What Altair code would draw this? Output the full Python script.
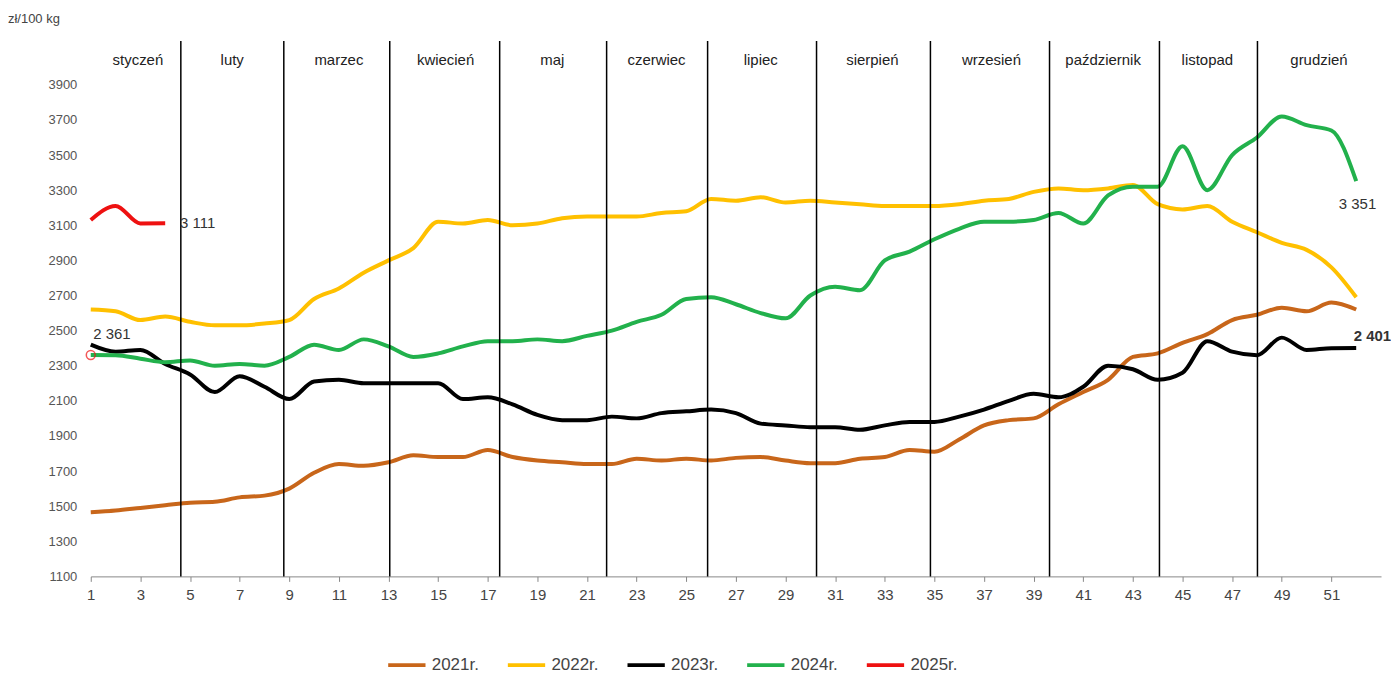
import pandas as pd
import altair as alt

weeks = list(range(1, 53))
y2021 = [1465, 1475, 1490, 1505, 1520, 1525, 1550, 1560, 1600, 1690, 1740, 1730, 1750, 1790, 1780, 1780,
         1820, 1780, 1760, 1750, 1740, 1740, 1770, 1760, 1770, 1760, 1775, 1780, 1760, 1745, 1745, 1770,
         1780, 1820, 1810, 1880, 1960, 1990, 2000, 2080, 2150, 2220, 2350, 2370, 2430, 2480, 2560, 2590,
         2630, 2610, 2660, 2620]
y2022 = [2620, 2610, 2560, 2580, 2550, 2530, 2530, 2540, 2560, 2680, 2740, 2830, 2900, 2970, 3120, 3110,
         3130, 3100, 3110, 3140, 3150, 3150, 3150, 3170, 3180, 3250, 3240, 3260, 3230, 3240, 3230, 3220,
         3210, 3210, 3210, 3220, 3240, 3250, 3290, 3310, 3300, 3310, 3330, 3220, 3190, 3210, 3120, 3060,
         3000, 2960, 2860, 2690]
y2023 = [2420, 2380, 2390, 2310, 2250, 2150, 2240, 2180, 2110, 2210, 2220, 2200, 2200, 2200, 2200, 2110,
         2120, 2080, 2020, 1990, 1990, 2010, 2000, 2030, 2040, 2050, 2030, 1970, 1960, 1950, 1950, 1935,
         1960, 1980, 1980, 2010, 2050, 2100, 2140, 2120, 2180, 2300, 2280, 2220, 2260, 2440, 2380, 2360,
         2460, 2390, 2400, 2401]
y2024 = [2361, 2360, 2340, 2320, 2330, 2300, 2310, 2300, 2350, 2420, 2390, 2450, 2410, 2350, 2370, 2410,
         2440, 2440, 2450, 2440, 2470, 2500, 2550, 2590, 2680, 2690, 2650, 2600, 2570, 2700, 2750, 2730,
         2900, 2950, 3020, 3080, 3120, 3120, 3130, 3170, 3110, 3270, 3320, 3320, 3550, 3300, 3500, 3600,
         3720, 3670, 3640, 3351]
y2025 = [3130, 3210, 3110, 3111]

years = ["2021r.", "2022r.", "2023r.", "2024r.", "2025r."]
colors = ["#c8661a", "#ffc000", "#000000", "#22b14c", "#ee1111"]

months = ["styczeń", "luty", "marzec", "kwiecień", "maj", "czerwiec", "lipiec", "sierpień",
          "wrzesień", "październik", "listopad", "grudzień"]
month_pos = [2.9, 6.7, 11.0, 15.3, 19.6, 23.8, 28.0, 32.5, 37.3, 41.8, 46.0, 50.5]
separators = [4.63, 8.78, 13.05, 17.48, 21.79, 25.86, 30.25, 34.84, 39.64, 44.07, 48.02]

rows = []
for yr, vals in zip(years, [y2021, y2022, y2023, y2024, y2025]):
    for w, v in zip(weeks, vals):
        rows.append({"week": w, "value": v, "year": yr})
df = pd.DataFrame(rows)

xs = alt.Scale(domain=[1, 53], nice=False)
ys = alt.Scale(domain=[1100, 4150], nice=False)
xaxis = alt.Axis(values=list(range(1, 53, 2)), grid=False, labelFontSize=15, labelColor="#444",
                 domainColor="#888", tickColor="#888", labelPadding=6, labelFlush=False)
yaxis = alt.Axis(values=list(range(1100, 4000, 200)), grid=False, domain=False, ticks=False,
                 format="d", labelOverlap=False, labelFontSize=13, labelColor="#555", labelPadding=14)
X = lambda f: alt.X(f, scale=xs, axis=xaxis, title=None)
Y = lambda f: alt.Y(f, scale=ys, axis=yaxis, title=None)

lines = alt.Chart(df).mark_line(strokeWidth=4, interpolate="monotone").encode(
    x=X("week:Q"),
    y=Y("value:Q"),
    color=alt.Color("year:N", scale=alt.Scale(domain=years, range=colors),
                    legend=alt.Legend(title=None, orient="none", direction="horizontal",
                                      legendX=296, legendY=605, symbolType="stroke",
                                      symbolSize=1400, symbolStrokeWidth=4, labelFontSize=17,
                                      labelColor="#444", columnPadding=20)),
)

sep = alt.Chart(pd.DataFrame({"x": separators})).mark_rule(color="black", strokeWidth=1.5).encode(
    x=X("x:Q"), y=alt.value(0), y2=alt.value(537))

mtext = alt.Chart(pd.DataFrame({"m": months, "x": month_pos, "y": [4040] * 12})).mark_text(
    fontSize=15, color="#222").encode(x=X("x:Q"), y=Y("y:Q"), text="m:N")

ann = pd.DataFrame({"t": ["2 361", "3 111", "3 351"],
                    "x": [1.1, 4.6, 51.3], "y": [2480, 3110, 3220]})
anntext = alt.Chart(ann).mark_text(fontSize=15, color="#333", align="left").encode(
    x=X("x:Q"), y=Y("y:Q"), text="t:N")
bold = alt.Chart(pd.DataFrame({"t": ["2 401"], "x": [51.9], "y": [2470]})).mark_text(
    fontSize=15, color="#333", align="left", fontWeight="bold").encode(
    x=X("x:Q"), y=Y("y:Q"), text="t:N")

dot = alt.Chart(pd.DataFrame({"x": [1], "y": [2361]})).mark_point(
    color="#ee1111", size=80, strokeWidth=1.5).encode(x=X("x:Q"), y=Y("y:Q"))

unit = alt.Chart(pd.DataFrame({"t": ["zł/100 kg"]})).mark_text(
    fontSize=13, color="#444", align="left").encode(x=alt.value(-83), y=alt.value(-22), text="t:N")

chart = alt.layer(lines, sep, mtext, anntext, bold, dot, unit).properties(
    width=1294, height=537,
    autosize=alt.AutoSizeParams(type="none"),
    padding={"left": 83, "top": 32, "right": 10, "bottom": 140},
).configure_view(stroke=None).configure_axisY(labelOverlap=False)

chart.save("out.html", embed_options={"renderer": "svg", "actions": False})
